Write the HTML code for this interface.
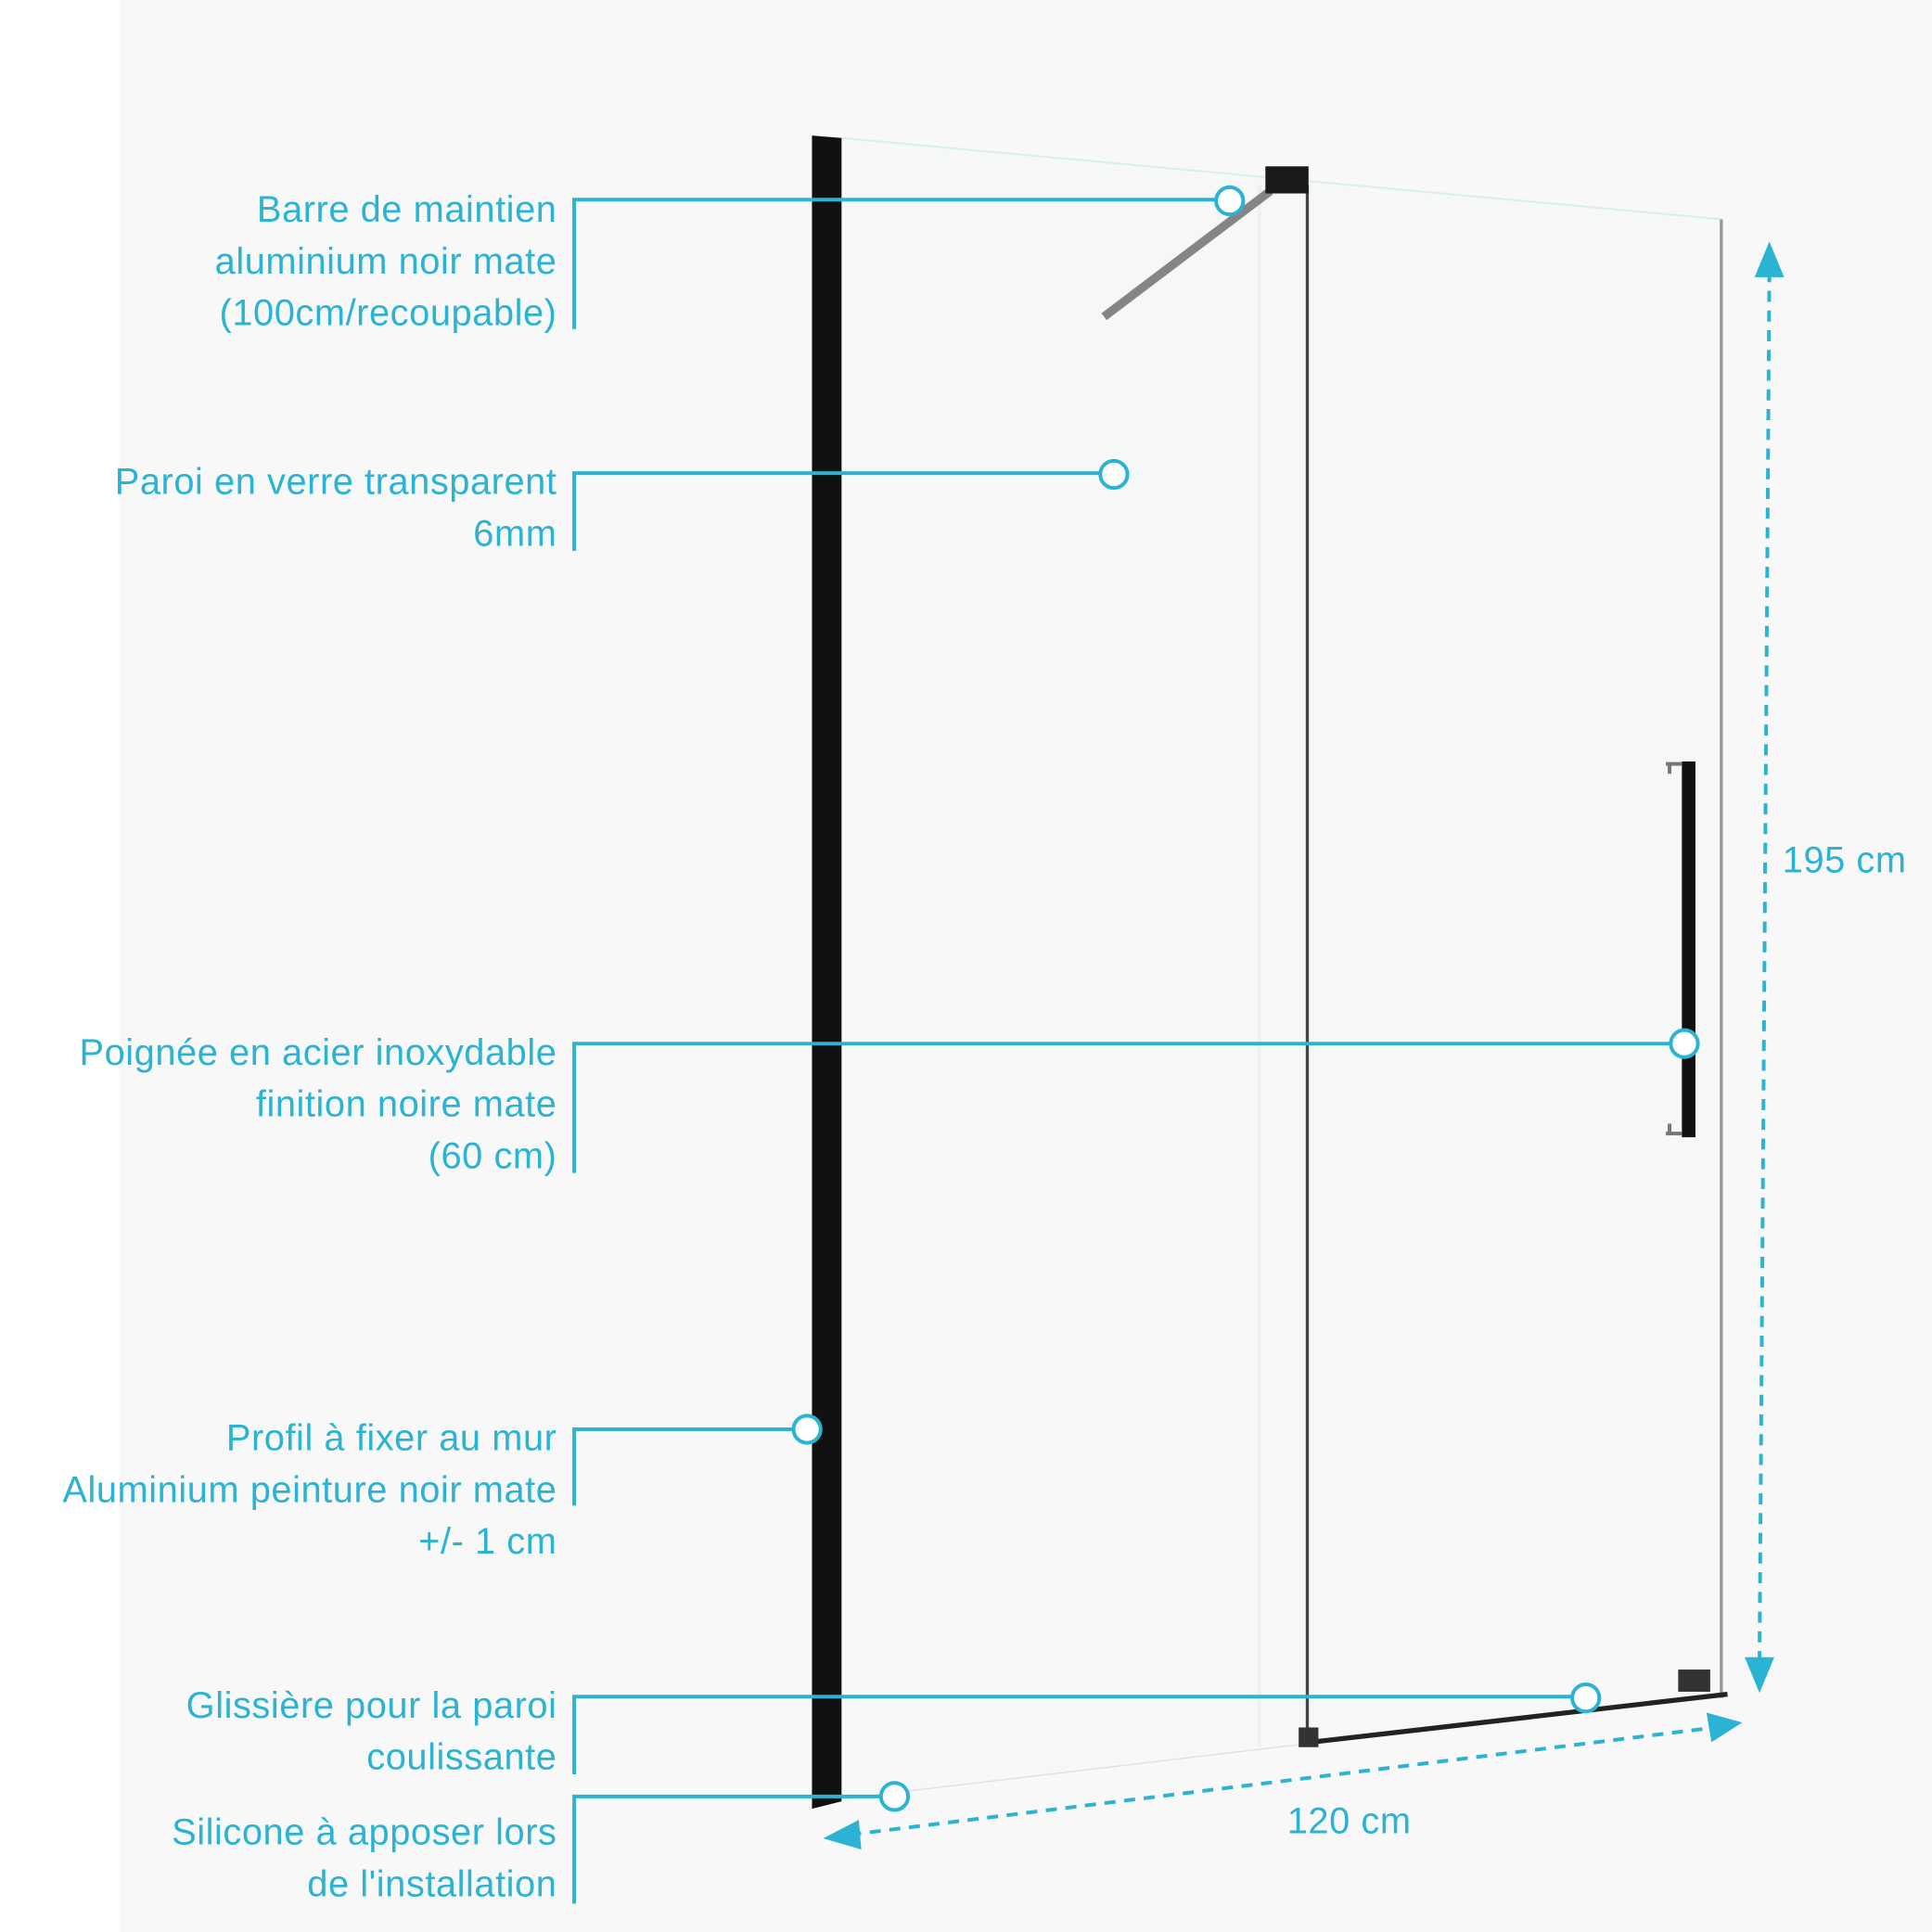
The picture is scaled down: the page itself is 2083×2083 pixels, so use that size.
<!DOCTYPE html>
<html><head><meta charset="utf-8"><style>
html,body{margin:0;padding:0;background:#fff}
svg{display:block}
text{font-family:"Liberation Sans Narrow","Liberation Sans",sans-serif;font-size:30px;fill:#2bb3d3;letter-spacing:0.4px}
</style></head><body>
<svg width="2083" height="2083" viewBox="0 0 1568 1568" xmlns="http://www.w3.org/2000/svg">
<rect x="0" y="0" width="1568" height="1568" fill="#ffffff"/>
<rect x="97" y="0" width="1471" height="1568" fill="#f8f8f8"/>
<!-- glass -->
<polygon points="683,112 1398,178 1398,1378 1062,1415 683,1460" fill="#f6f7f7"/>
<line x1="683" y1="112" x2="1398" y2="178" stroke="#d8eeea" stroke-width="1.5"/>
<line x1="683" y1="1460" x2="1062" y2="1415" stroke="#dde" stroke-width="1"/>
<line x1="1022" y1="150" x2="1022" y2="1418" stroke="#eef0f0" stroke-width="3"/>
<line x1="1061" y1="150" x2="1061" y2="1410" stroke="#444" stroke-width="2.5"/>
<line x1="1397" y1="178" x2="1397" y2="1378" stroke="#999" stroke-width="2.5"/>
<!-- bottom rail -->
<line x1="1064" y1="1414" x2="1402" y2="1375" stroke="#222" stroke-width="4"/>
<rect x="1054" y="1402" width="16" height="16" fill="#333"/>
<rect x="1362" y="1355" width="26" height="18" fill="#333"/>
<!-- stabilizer -->
<line x1="896" y1="257" x2="1031" y2="155" stroke="#858585" stroke-width="7"/>
<rect x="1027" y="135" width="35" height="22" fill="#1a1a1a"/>
<!-- wall profile -->
<polygon points="659,110 683,112 683,1462 659,1468" fill="#111"/>
<!-- handle -->
<rect x="1365" y="618" width="11" height="305" fill="#111"/>
<path d="M1352,620 h13 M1355,620 v8 M1352,920 h13 M1355,912 v8" stroke="#777" stroke-width="3" fill="none"/>
<!-- dimensions -->
<g stroke="#2bb3d3" stroke-width="3" fill="none" stroke-dasharray="9,7">
<line x1="1436" y1="220" x2="1428" y2="1350"/>
<line x1="690" y1="1489" x2="1392" y2="1402"/>
</g>
<g fill="#2bb3d3">
<polygon points="1436,196 1424,225 1448,225"/>
<polygon points="1428,1374 1416,1345 1440,1345"/>
<polygon points="668,1492 697,1477 699,1501"/>
<polygon points="1414,1398 1385,1390 1389,1414"/>
</g>
<text x="1497" y="708" text-anchor="middle">195 cm</text>
<text x="1095" y="1488" text-anchor="middle">120 cm</text>
<!-- callouts -->
<g stroke="#2bb3d3" stroke-width="3" fill="none">
<path d="M466,267 V162 H988"/>
<path d="M466,447 V384 H893"/>
<path d="M466,952 V847 H1356"/>
<path d="M466,1222 V1160 H644"/>
<path d="M466,1440 V1377 H1276"/>
<path d="M466,1545 V1458 H715"/>
</g>
<g stroke="#2bb3d3" stroke-width="3" fill="#fff">
<circle cx="998" cy="163" r="11"/>
<circle cx="904" cy="385" r="11"/>
<circle cx="1367" cy="847" r="11"/>
<circle cx="655" cy="1160" r="11"/>
<circle cx="1287" cy="1378" r="11"/>
<circle cx="726" cy="1458" r="11"/>
</g>
<g text-anchor="end">
<text x="452" y="180">Barre de maintien</text>
<text x="452" y="222">aluminium noir mate</text>
<text x="452" y="264">(100cm/recoupable)</text>
<text x="452" y="401">Paroi en verre transparent</text>
<text x="452" y="443">6mm</text>
<text x="452" y="864">Poignée en acier inoxydable</text>
<text x="452" y="906">finition noire mate</text>
<text x="452" y="948">(60 cm)</text>
<text x="452" y="1177">Profil à fixer au mur</text>
<text x="452" y="1219">Aluminium peinture noir mate</text>
<text x="452" y="1261">+/- 1 cm</text>
<text x="452" y="1394">Glissière pour la paroi</text>
<text x="452" y="1436">coulissante</text>
<text x="452" y="1497">Silicone à apposer lors</text>
<text x="452" y="1539">de l'installation</text>
</g>
</svg>
</body></html>
